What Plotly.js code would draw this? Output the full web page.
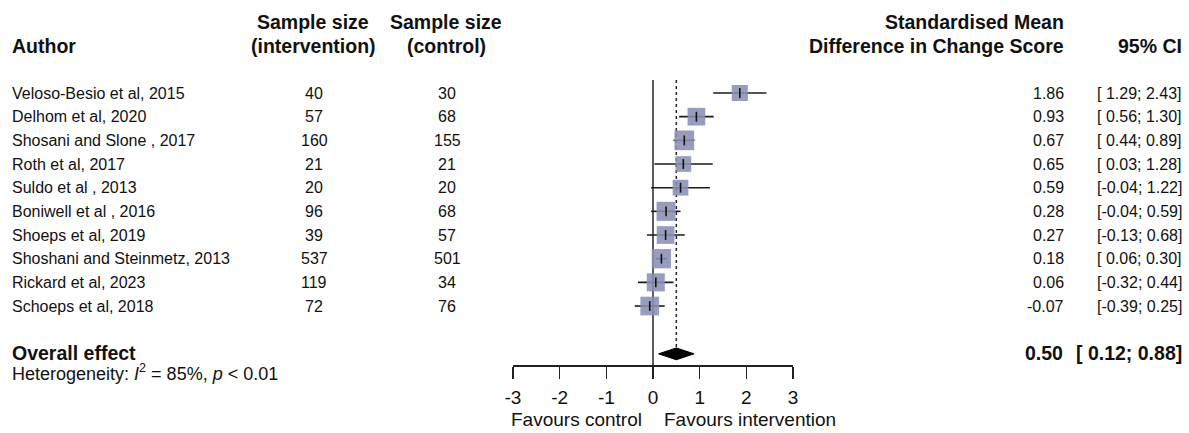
<!DOCTYPE html>
<html>
<head>
<meta charset="utf-8">
<script src="https://cdn.plot.ly/plotly-3.0.1.min.js"></script>
<style>html,body{margin:0;padding:0;background:#fff;}#chart{width:1189px;height:433px;}</style>
</head>
<body>
<div id="chart"></div>
<script>
// ---- data ----
const authors = ["Veloso-Besio et al, 2015","Delhom et al, 2020","Shosani and Slone , 2017","Roth et al, 2017","Suldo et al , 2013","Boniwell et al , 2016","Shoeps et al, 2019","Shoshani and Steinmetz, 2013","Rickard et al, 2023","Schoeps et al, 2018"];
const nIntervention = [40, 57, 160, 21, 20, 96, 39, 537, 119, 72];
const nControl = [30, 68, 155, 21, 20, 68, 57, 501, 34, 76];
const smd = [1.86, 0.93, 0.67, 0.65, 0.59, 0.28, 0.27, 0.18, 0.06, -0.07];
const ciLow = [1.29, 0.56, 0.44, 0.03, -0.04, -0.04, -0.13, 0.06, -0.32, -0.39];
const ciHigh = [2.43, 1.30, 0.89, 1.28, 1.22, 0.59, 0.68, 0.30, 0.44, 0.25];
const weights = [8.1, 9.9, 12.2, 7.8, 7.8, 11.4, 9.9, 11.7, 10.2, 11.0];
const overall = {est: 0.50, lo: 0.12, hi: 0.88};
const xTicks = [-3, -2, -1, 0, 1, 2, 3];

// ---- layout helpers ----
const W = 1189, H = 433;
const ROW0 = 93, ROWH = 23.67;
const FONT = "Liberation Sans, Arial, Helvetica, sans-serif";
const TXT = "#111";
const rows = authors.map((_, i) => i);
const yOverall = 11.02;

function fmt(v) { return v.toFixed(2); }
function fmtCI(lo, hi) {
  const a = lo < 0 ? fmt(lo) : " " + fmt(lo);
  const b = hi < 0 ? fmt(hi) : " " + fmt(hi);
  return "[" + a + ";" + b + "]";
}

// CI segments
const ciX = [], ciY = [];
rows.forEach(i => { ciX.push(ciLow[i], ciHigh[i], null); ciY.push(i, i, null); });

const traces = [
  { // reference line at 0
    x: [0, 0], y: [-0.55, 11.49], mode: "lines", type: "scatter",
    line: {color: "#333", width: 1.6}, hoverinfo: "skip", cliponaxis: false
  },
  { // dotted overall line
    x: [overall.est, overall.est], y: [-0.55, yOverall - 0.27], mode: "lines", type: "scatter",
    line: {color: "#222", width: 1.5, dash: "dot"}, hoverinfo: "skip", cliponaxis: false
  },
  { // CI lines
    x: ciX, y: ciY, mode: "lines", type: "scatter",
    line: {color: "#1a1a1a", width: 1.6}, hoverinfo: "skip", cliponaxis: false
  },
  { // squares
    x: smd, y: rows, mode: "markers", type: "scatter",
    marker: {symbol: "square", size: weights.map(w => 5.64 * Math.sqrt(w)), color: "rgb(139,143,180)", opacity: 0.88, line: {width: 0}},
    hoverinfo: "skip", cliponaxis: false
  },
  { // estimate ticks
    x: smd, y: rows, mode: "markers", type: "scatter",
    marker: {symbol: "line-ns", size: 7, line: {color: "#111", width: 1.6}},
    hoverinfo: "skip", cliponaxis: false
  },
  { // diamond
    x: [overall.lo, overall.est, overall.hi, overall.est, overall.lo],
    y: [yOverall, yOverall - 0.25, yOverall, yOverall + 0.25, yOverall],
    mode: "lines", type: "scatter", fill: "toself", fillcolor: "#000",
    line: {color: "#000", width: 1}, hoverinfo: "skip", cliponaxis: false
  }
];

const ann = [];
function t(xpx, y, text, anchor, size, bold) {
  ann.push({
    xref: "paper", yref: "y", x: xpx / W, y: y, text: bold ? "<b>" + text + "</b>" : text,
    xanchor: anchor, yanchor: "middle", showarrow: false,
    font: {family: FONT, size: size, color: TXT}
  });
}
// headers
t(10, -2, "Author", "left", 19.5, true);
t(313, -3, "Sample size", "center", 19.5, true);
t(313, -2, "(intervention)", "center", 19.5, true);
t(446, -3, "Sample size", "center", 19.5, true);
t(446, -2, "(control)", "center", 19.5, true);
t(1066, -3, "Standardised Mean", "right", 19.5, true);
t(1066, -2, "Difference in Change Score", "right", 19.5, true);
t(1184, -2, "95% CI", "right", 19.5, true);
// rows
rows.forEach(i => {
  t(10, i, authors[i], "left", 16, false);
  t(314, i, String(nIntervention[i]), "center", 16, false);
  t(447, i, String(nControl[i]), "center", 16, false);
  t(1066, i, fmt(smd[i]), "right", 16, false);
  t(1184, i, fmtCI(ciLow[i], ciHigh[i]).replace(/ /g, "&nbsp;"), "right", 16, false);
});
// overall
t(10, 10.98, "Overall effect", "left", 19.5, true);
t(1065, 10.98, fmt(overall.est), "right", 19.5, true);
t(1184, 10.98, fmtCI(overall.lo, overall.hi).replace(/ /g, "&nbsp;"), "right", 19.5, true);
t(10, 11.8, "Heterogeneity: <i>I</i><sup>2</sup> = 85%, <i>p</i> &lt; 0.01", "left", 18, false);
// favours labels
t(644, 13.78, "Favours control", "right", 19, false);
t(662, 13.78, "Favours intervention", "left", 19, false);

const layout = {
  width: W, height: H,
  margin: {l: 0, r: 0, t: 0, b: 0, pad: 0},
  paper_bgcolor: "#fff", plot_bgcolor: "rgba(0,0,0,0)",
  showlegend: false,
  xaxis: {
    domain: [513 / W, 793 / W], range: [-3, 3], anchor: "free", position: (H - 365) / H,
    showline: true, linecolor: "#222", linewidth: 1.5,
    ticks: "outside", ticklen: 12, tickwidth: 1.5, tickcolor: "#222",
    tickvals: xTicks, ticktext: xTicks.map(String),
    tickfont: {family: FONT, size: 19, color: TXT}, ticklabelstandoff: 3,
    showgrid: false, zeroline: false, fixedrange: true
  },
  yaxis: {
    domain: [0, 1], range: [(H - ROW0) / ROWH, -ROW0 / ROWH],
    visible: false, showgrid: false, zeroline: false, fixedrange: true
  },
  annotations: ann
};

Plotly.newPlot("chart", traces, layout, {staticPlot: true, displayModeBar: false});
</script>
</body>
</html>
